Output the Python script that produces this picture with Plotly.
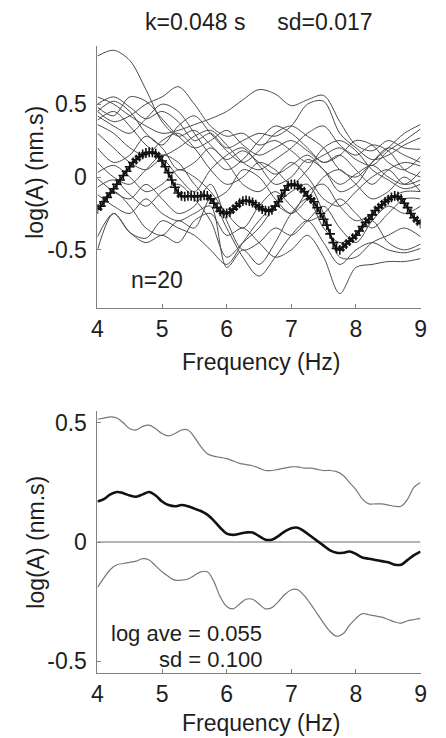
import plotly.graph_objects as go

# ---------------- data ----------------
freq_grid = [4.0, 4.25, 4.5, 4.75, 5.0, 5.25, 5.5, 5.75, 6.0, 6.25, 6.5, 6.75,
             7.0, 7.25, 7.5, 7.75, 8.0, 8.25, 8.5, 8.75, 9.0]

subjects = [
    [0.83, 0.87, 0.80, 0.60, 0.38, 0.28, 0.32, 0.22, 0.12, 0.18, 0.10, 0.02, 0.08, 0.15, 0.05, -0.05, 0.02, 0.08, 0.0, -0.05, 0.04],
    [0.45, 0.38, 0.42, 0.50, 0.55, 0.62, 0.50, 0.35, 0.28, 0.30, 0.22, 0.25, 0.18, 0.10, 0.15, 0.20, 0.12, 0.08, 0.18, 0.25, 0.33],
    [0.55, 0.50, 0.42, 0.35, 0.30, 0.32, 0.36, 0.40, 0.45, 0.53, 0.60, 0.57, 0.49, 0.53, 0.56, 0.38, 0.22, 0.18, 0.25, 0.20, 0.19],
    [0.50, 0.55, 0.48, 0.40, 0.45, 0.38, 0.25, 0.30, 0.20, 0.25, 0.30, 0.28, 0.35, 0.50, 0.52, 0.30, 0.20, 0.12, 0.15, 0.22, 0.27],
    [0.48, 0.42, 0.55, 0.52, 0.40, 0.28, 0.20, 0.25, 0.32, 0.22, 0.15, 0.20, 0.25, 0.18, 0.10, 0.15, 0.25, 0.22, 0.10, 0.05, 0.14],
    [0.45, 0.52, 0.45, 0.30, 0.22, 0.35, 0.42, 0.30, 0.18, 0.10, 0.18, 0.30, 0.35, 0.28, 0.20, 0.05, 0.0, 0.10, 0.20, 0.30, 0.36],
    [0.42, 0.35, 0.30, 0.40, 0.50, 0.45, 0.30, 0.15, 0.05, 0.12, 0.25, 0.35, 0.30, 0.20, 0.10, 0.15, 0.05, -0.05, 0.05, 0.10, 0.075],
    [0.39, 0.45, 0.35, 0.22, 0.15, 0.20, 0.28, 0.32, 0.22, 0.10, 0.05, 0.12, 0.20, 0.30, 0.35, 0.22, 0.15, 0.22, 0.18, 0.05, 0.0],
    [0.36, 0.30, 0.20, 0.15, 0.25, 0.30, 0.20, 0.05, -0.05, 0.0, 0.10, 0.05, -0.05, 0.05, 0.20, 0.25, 0.18, 0.05, -0.02, -0.08, -0.05],
    [0.30, 0.20, 0.10, 0.05, 0.12, 0.0, -0.10, 0.05, 0.15, 0.20, 0.08, -0.05, 0.0, 0.12, 0.05, -0.10, -0.05, 0.10, 0.20, 0.15, 0.10],
    [0.20, 0.10, 0.15, 0.28, 0.20, 0.05, 0.10, 0.20, 0.10, -0.05, -0.10, 0.0, 0.10, 0.0, -0.15, -0.20, -0.10, 0.0, 0.05, -0.05, -0.02],
    [0.10, 0.0, -0.05, 0.05, 0.15, 0.10, -0.05, -0.15, -0.10, 0.05, 0.0, -0.15, -0.25, -0.15, 0.0, 0.05, -0.05, -0.15, -0.10, 0.0, -0.10],
    [0.03, 0.08, 0.0, -0.10, -0.05, 0.05, 0.0, -0.10, -0.25, -0.35, -0.20, -0.10, -0.20, -0.30, -0.25, -0.15, -0.25, -0.35, -0.25, -0.15, -0.15],
    [-0.01, -0.10, -0.15, -0.05, -0.15, -0.25, -0.20, -0.05, -0.30, -0.50, -0.45, -0.35, -0.40, -0.30, -0.20, -0.35, -0.45, -0.30, -0.20, -0.25, -0.20],
    [-0.07, -0.02, -0.12, -0.20, -0.10, -0.05, -0.15, -0.30, -0.55, -0.45, -0.35, -0.20, -0.10, -0.05, -0.25, -0.55, -0.55, -0.45, -0.40, -0.35, -0.41],
    [-0.12, -0.20, -0.25, -0.15, -0.25, -0.30, -0.25, -0.20, -0.62, -0.50, -0.60, -0.45, -0.25, -0.15, -0.35, -0.45, -0.40, -0.30, -0.45, -0.50, -0.46],
    [-0.20, -0.10, -0.20, -0.35, -0.40, -0.30, -0.35, -0.15, -0.35, -0.55, -0.68, -0.55, -0.40, -0.30, -0.45, -0.60, -0.50, -0.45, -0.50, -0.52, -0.49],
    [-0.41, -0.25, -0.38, -0.45, -0.40, -0.45, -0.30, -0.25, -0.40, -0.35, -0.45, -0.55, -0.50, -0.40, -0.55, -0.80, -0.62, -0.60, -0.58, -0.58, -0.56],
    [-0.50, -0.25, -0.38, -0.42, -0.30, -0.35, -0.40, -0.50, -0.60, -0.45, -0.30, -0.20, -0.25, -0.10, -0.05, -0.20, -0.30, -0.25, -0.15, -0.10, -0.10],
]

freq_fine = [round(4.0 + 0.05 * i, 2) for i in range(101)]
highlight = [
    -0.22, -0.20, -0.17, -0.14, -0.11, -0.08, -0.05, -0.02, 0.01, 0.04,
    0.07, 0.10, 0.12, 0.14, 0.155, 0.165, 0.17, 0.17, 0.16, 0.14,
    0.11, 0.07, 0.03, -0.02, -0.07, -0.11, -0.13, -0.135, -0.13, -0.13,
    -0.135, -0.135, -0.13, -0.125, -0.13, -0.15, -0.18, -0.21, -0.235, -0.25,
    -0.25, -0.24, -0.22, -0.20, -0.18, -0.165, -0.16, -0.165, -0.175, -0.19,
    -0.205, -0.22, -0.23, -0.235, -0.225, -0.20, -0.17, -0.13, -0.09, -0.06,
    -0.05, -0.05, -0.06, -0.08, -0.10, -0.13, -0.15, -0.17, -0.21, -0.25,
    -0.29, -0.33, -0.39, -0.45, -0.49, -0.50, -0.48, -0.46, -0.44, -0.42,
    -0.40, -0.37, -0.34, -0.31, -0.29, -0.26, -0.23, -0.21, -0.19, -0.17,
    -0.155, -0.14, -0.13, -0.135, -0.15, -0.18, -0.21, -0.25, -0.28, -0.30,
    -0.32,
]

freq_avg = [round(4.0 + 0.1 * i, 1) for i in range(51)]
upper_sd = [
    0.515, 0.52, 0.525, 0.52, 0.50, 0.475, 0.47, 0.485, 0.49, 0.475,
    0.455, 0.445, 0.455, 0.47, 0.47, 0.44, 0.40, 0.37, 0.36, 0.355,
    0.35, 0.34, 0.33, 0.325, 0.32, 0.31, 0.30, 0.30, 0.305, 0.31,
    0.315, 0.315, 0.31, 0.31, 0.305, 0.30, 0.30, 0.295, 0.28, 0.25,
    0.22, 0.18, 0.16, 0.16, 0.16, 0.155, 0.15, 0.15, 0.18, 0.23,
    0.25,
]
log_mean = [
    0.17, 0.18, 0.20, 0.21, 0.205, 0.195, 0.19, 0.20, 0.21, 0.195,
    0.17, 0.155, 0.15, 0.155, 0.15, 0.14, 0.13, 0.115, 0.09, 0.06,
    0.035, 0.03, 0.035, 0.04, 0.04, 0.025, 0.01, 0.01, 0.025, 0.045,
    0.058, 0.06, 0.045, 0.025, 0.005, -0.015, -0.035, -0.045, -0.045, -0.04,
    -0.05, -0.065, -0.07, -0.075, -0.08, -0.085, -0.095, -0.095, -0.075, -0.055,
    -0.04,
]
lower_sd = [
    -0.19, -0.15, -0.115, -0.095, -0.09, -0.085, -0.08, -0.07, -0.075, -0.10,
    -0.125, -0.145, -0.16, -0.16, -0.155, -0.14, -0.125, -0.125, -0.165, -0.23,
    -0.27, -0.28, -0.26, -0.24, -0.24, -0.26, -0.28, -0.275, -0.25, -0.22,
    -0.20, -0.20, -0.225, -0.26, -0.30, -0.34, -0.375, -0.395, -0.385, -0.35,
    -0.32, -0.30, -0.305, -0.31, -0.315, -0.325, -0.335, -0.34, -0.33, -0.325,
    -0.32,
]

x_ticks = [4, 5, 6, 7, 8, 9]
y_ticks = [-0.5, 0, 0.5]
y_tick_labels = ["-0.5", "0", "0.5"]

title_text = "k=0.048 s\u00a0\u00a0\u00a0\u00a0\u00a0sd=0.017"
n_text = "n=20"
ave_text = "log ave = 0.055"
sd_text = "sd = 0.100"
x_title = "Frequency (Hz)"
y_title = "log(A) (nm.s)"

# ---------------- figure ----------------
W, H = 446, 738
FONT = "Liberation Sans, Arial, sans-serif"
TXT = "#1e1e1e"
FS = 23

fig = go.Figure()

for s in subjects:
    fig.add_trace(go.Scatter(x=freq_grid, y=s, mode="lines",
                             line=dict(color="#4a4a4a", width=1, shape="spline", smoothing=0.9),
                             xaxis="x", yaxis="y", showlegend=False, hoverinfo="skip"))

fig.add_trace(go.Scatter(x=freq_fine, y=highlight, mode="lines+markers",
                         line=dict(color="#111111", width=2),
                         marker=dict(symbol="cross-thin", size=7, color="#111111",
                                     line=dict(color="#111111", width=1.6)),
                         xaxis="x", yaxis="y", showlegend=False))

# bottom panel
fig.add_trace(go.Scatter(x=[4, 9], y=[0, 0], mode="lines",
                         line=dict(color="#6a6a6a", width=1),
                         xaxis="x2", yaxis="y2", showlegend=False))
fig.add_trace(go.Scatter(x=freq_avg, y=upper_sd, mode="lines",
                         line=dict(color="#777777", width=1.2, shape="spline"),
                         xaxis="x2", yaxis="y2", showlegend=False))
fig.add_trace(go.Scatter(x=freq_avg, y=lower_sd, mode="lines",
                         line=dict(color="#777777", width=1.2, shape="spline"),
                         xaxis="x2", yaxis="y2", showlegend=False))
fig.add_trace(go.Scatter(x=freq_avg, y=log_mean, mode="lines",
                         line=dict(color="#111111", width=2.6, shape="spline"),
                         xaxis="x2", yaxis="y2", showlegend=False))

xd = [94 / W, 426 / W]
top_dom = [1 - 308 / H, 1 - 45 / H]
bot_dom = [1 - 674 / H, 1 - 411 / H]

axis_common = dict(showline=True, linecolor="#808080", linewidth=1,
                   ticks="inside", ticklen=4, tickcolor="#808080", tickwidth=1,
                   showgrid=False, zeroline=False,
                   tickfont=dict(family=FONT, size=FS, color=TXT))

fig.update_layout(
    width=W, height=H,
    margin=dict(l=0, r=0, t=0, b=0),
    paper_bgcolor="white", plot_bgcolor="white",
    xaxis=dict(domain=xd, range=[4, 9], tickvals=x_ticks, anchor="y", **axis_common),
    yaxis=dict(domain=top_dom, range=[-0.9, 0.9], tickvals=y_ticks, ticktext=y_tick_labels,
               anchor="x", ticklabelstandoff=5, **axis_common),
    xaxis2=dict(domain=xd, range=[4, 9], tickvals=x_ticks, anchor="y2", **axis_common),
    yaxis2=dict(domain=bot_dom, range=[-0.55, 0.55], tickvals=y_ticks, ticktext=y_tick_labels,
                anchor="x2", ticklabelstandoff=5, **axis_common),
)

def ann(text, xp, yp, xanchor="center", angle=0, size=FS):
    fig.add_annotation(text=text, xref="paper", yref="paper",
                       x=xp / W, y=1 - yp / H, xanchor=xanchor, yanchor="middle",
                       showarrow=False, textangle=angle, borderpad=0,
                       font=dict(family=FONT, size=size, color=TXT))

ann(title_text, 260, 21)
ann(n_text, 127, 280, xanchor="left")
ann(x_title, 262, 362)
ann(x_title, 262, 724)
ann(y_title, 29, 172, angle=-90)
ann(y_title, 30, 543, angle=-90)
ann(ave_text, 264, 634, xanchor="right", size=22)
ann(sd_text, 264, 660, xanchor="right", size=22)

fig.write_html("out.html")
